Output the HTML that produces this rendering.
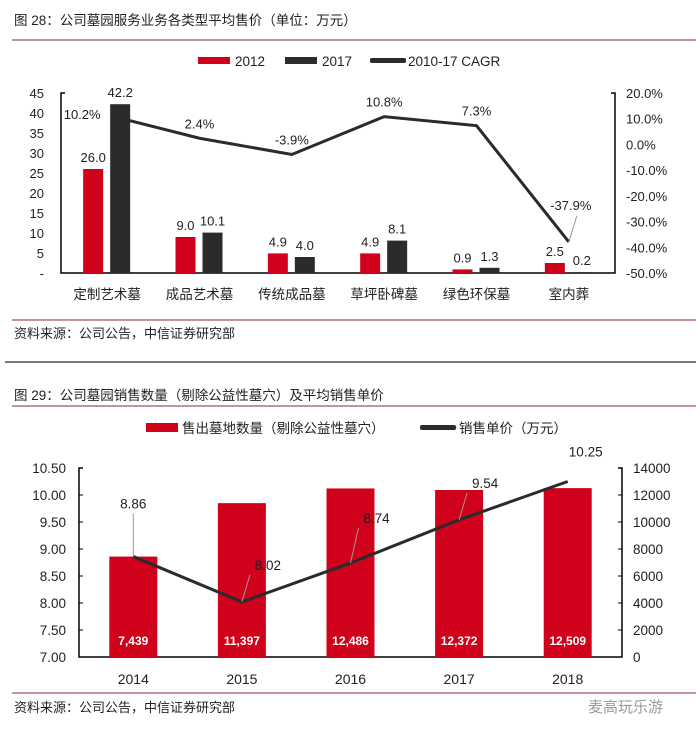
<!DOCTYPE html>
<html><head><meta charset="utf-8"><style>
body{margin:0;background:#fff;width:700px;height:736px;overflow:hidden;font-family:"Liberation Sans","Noto Sans CJK SC",sans-serif;}
svg text{font-family:"Liberation Sans","Noto Sans CJK SC",sans-serif;}
</style></head><body>
<svg width="700" height="736" viewBox="0 0 700 736" xmlns="http://www.w3.org/2000/svg">
<text x="14" y="25" font-size="13.5" fill="#222">图 28：公司墓园服务业务各类型平均售价（单位：万元）</text>
<line x1="12" y1="40" x2="696" y2="40" stroke="#8b2a2a" stroke-width="1"/>
<g font-size="13.5" fill="#222">
<rect x="198" y="57" width="32" height="7" fill="#d0021b"/><text x="235" y="66">2012</text>
<rect x="285" y="57" width="32" height="7" fill="#2b2b2b"/><text x="322" y="66">2017</text>
<rect x="370" y="58" width="36" height="5" rx="2" fill="#2b2b2b"/><text x="408" y="66">2010-17 CAGR</text>
</g>
<g id="c1"></g>
<text x="14" y="338" font-size="13" fill="#222">资料来源：公司公告，中信证券研究部</text>
<line x1="12" y1="320" x2="696" y2="320" stroke="#8b2a2a" stroke-width="1"/>
<line x1="5" y1="362" x2="696" y2="362" stroke="#777" stroke-width="2"/>

<text x="14" y="400" font-size="13.5" fill="#222">图 29：公司墓园销售数量（剔除公益性墓穴）及平均销售单价</text>
<line x1="12" y1="406" x2="696" y2="406" stroke="#8b2a2a" stroke-width="1"/>
<g font-size="13.5" fill="#222">
<rect x="146" y="423" width="32" height="9" fill="#d0021b"/><text x="182" y="433">售出墓地数量（剔除公益性墓穴）</text>
<rect x="420" y="425" width="36" height="5" rx="2" fill="#2b2b2b"/><text x="459" y="433">销售单价（万元）</text>
</g>
<g id="c2"></g>
<line x1="12" y1="693" x2="696" y2="693" stroke="#8b2a2a" stroke-width="1"/>
<text x="14" y="712" font-size="13" fill="#222">资料来源：公司公告，中信证券研究部</text>
<text x="588" y="712" font-size="15" fill="#999">麦高玩乐游</text>
</svg>
<script>
const cats1=["定制艺术墓","成品艺术墓","传统成品墓","草坪卧碑墓","绿色环保墓","室内葬"];
const v2012=[26.0,9.0,4.9,4.9,0.9,2.5];
const v2017=[42.2,10.1,4.0,8.1,1.3,0.2];
const cagr=[10.2,2.4,-3.9,10.8,7.3,-37.9];
const lTicks1=[45,40,35,30,25,20,15,10,5,0];
const rTicks1=[20,10,0,-10,-20,-30,-40,-50];

const cats2=["2014","2015","2016","2017","2018"];
const qty=[7439,11397,12486,12372,12509];
const price=[8.86,8.02,8.74,9.54,10.25];
const lTicks2=[10.5,10,9.5,9,8.5,8,7.5,7];
const rTicks2=[14000,12000,10000,8000,6000,4000,2000,0];

const NS="http://www.w3.org/2000/svg";
function mk(p,t,a,txt){const e=document.createElementNS(NS,t);for(const k in a)e.setAttribute(k,a[k]);if(txt!==undefined)e.textContent=txt;p.appendChild(e);return e;}

// chart 1
(function(){
const g=document.getElementById('c1');
const X0=61,X1=615,Y0=273,Y1=93;
const step=(X1-X0)/cats1.length;
const cx=i=>X0+step*(i+0.5);
const yL=v=>Y0-(v/45)*(Y0-Y1);
const yR=v=>Y0-((v+50)/70)*(Y0-Y1);
mk(g,'path',{d:`M${X0+4} ${Y1}H${X0}V${Y0}H${X1}V${Y1}H${X1-4}`,fill:'none',stroke:'#000','stroke-width':1.5});
lTicks1.forEach(t=>{const e=mk(g,'text',{x:44,y:yL(t)+5,'text-anchor':'end','font-size':13,fill:'#222'},t===0?'-':String(t));

});
rTicks1.forEach(t=>{const e=mk(g,'text',{x:626,y:yR(t)+5,'font-size':13,fill:'#222'},t.toFixed(1)+'%');

});
cats1.forEach((c,i)=>{
const a=mk(g,'rect',{x:cx(i)-24,y:yL(v2012[i]),width:20,height:Y0-yL(v2012[i]),fill:'#d0021b'});


const b=mk(g,'rect',{x:cx(i)+3,y:yL(v2017[i]),width:20,height:Y0-yL(v2017[i]),fill:'#2b2b2b'});


mk(g,'text',{x:cx(i)-14,y:yL(v2012[i])-7,'text-anchor':'middle','font-size':13,fill:'#222'},v2012[i].toFixed(1));
mk(g,'text',{x:cx(i)+13,y:yL(v2017[i])-7,'text-anchor':'middle','font-size':13,fill:'#222'},v2017[i].toFixed(1));
const l=mk(g,'text',{x:cx(i),y:299,'text-anchor':'middle','font-size':13.5,fill:'#222'},c);


});
const pts=cagr.map((v,i)=>[cx(i)+(i===0?13:0),yR(v)]);
const ln=mk(g,'polyline',{points:pts.map(p=>p.join(',')).join(' '),fill:'none',stroke:'#2b2b2b','stroke-width':3});


cagr.forEach((v,i)=>{const [x,y]=pts[i];let ty=y-10,tx=x;
if(i===0){tx=x-38;ty=y+1;} if(i===5){tx=x+2;ty=y-32;mk(g,'line',{x1:x,y1:y,x2:x+8,y2:y-26,stroke:'#999'});}
mk(g,'text',{x:tx,y:ty,'text-anchor':'middle','font-size':13,fill:'#222'},v.toFixed(1)+'%');});
})();

// chart 2
(function(){
const g=document.getElementById('c2');
const X0=79,X1=622,Y0=657,Y1=468;
const step=(X1-X0)/cats2.length;
const cx=i=>X0+step*(i+0.5);
const yL=v=>Y0-((v-7)/3.5)*(Y0-Y1);
const yR=v=>Y0-(v/14000)*(Y0-Y1);
mk(g,'path',{d:`M${X0+4} ${Y1}H${X0}V${Y0}H${X1}V${Y1}H${X1-4}`,fill:'none',stroke:'#000','stroke-width':1.5});
lTicks2.forEach(t=>{mk(g,'line',{x1:X0,y1:yL(t),x2:X0+4,y2:yL(t),stroke:'#000'});
const e=mk(g,'text',{x:66,y:yL(t)+5,'text-anchor':'end','font-size':13.5,fill:'#222'},t.toFixed(2));

});
rTicks2.forEach(t=>{mk(g,'line',{x1:X1-4,y1:yR(t),x2:X1,y2:yR(t),stroke:'#000'});
const e=mk(g,'text',{x:633,y:yR(t)+5,'font-size':13.5,fill:'#222'},String(t));

});
cats2.forEach((c,i)=>{
const b=mk(g,'rect',{x:cx(i)-24,y:yR(qty[i]),width:48,height:Y0-yR(qty[i]),fill:'#d0021b'});


mk(g,'text',{x:cx(i),y:645,'text-anchor':'middle','font-size':12,'font-weight':'bold',fill:'#fff'},qty[i].toLocaleString('en-US'));
const l=mk(g,'text',{x:cx(i),y:684,'text-anchor':'middle','font-size':14,fill:'#222'},c);


});
const pts=price.map((v,i)=>[cx(i),yL(v)]);
const ln=mk(g,'polyline',{points:pts.map(p=>p.join(',')).join(' '),fill:'none',stroke:'#2b2b2b','stroke-width':3});


const off=[[0,-48],[8,-32],[8,-40],[8,-32],[0,-25]];
price.forEach((v,i)=>{const [x,y]=pts[i];const [dx,dy]=off[i];
if(i<4){mk(g,'line',{x1:x,y1:y,x2:x+dx,y2:y+dy+5,stroke:'#999'});}
mk(g,'text',{x:x+dx+(i===0?0:18),y:y+dy,'text-anchor':'middle','font-size':13.5,fill:'#222'},v.toFixed(2));});
})();
</script>
</body></html>
